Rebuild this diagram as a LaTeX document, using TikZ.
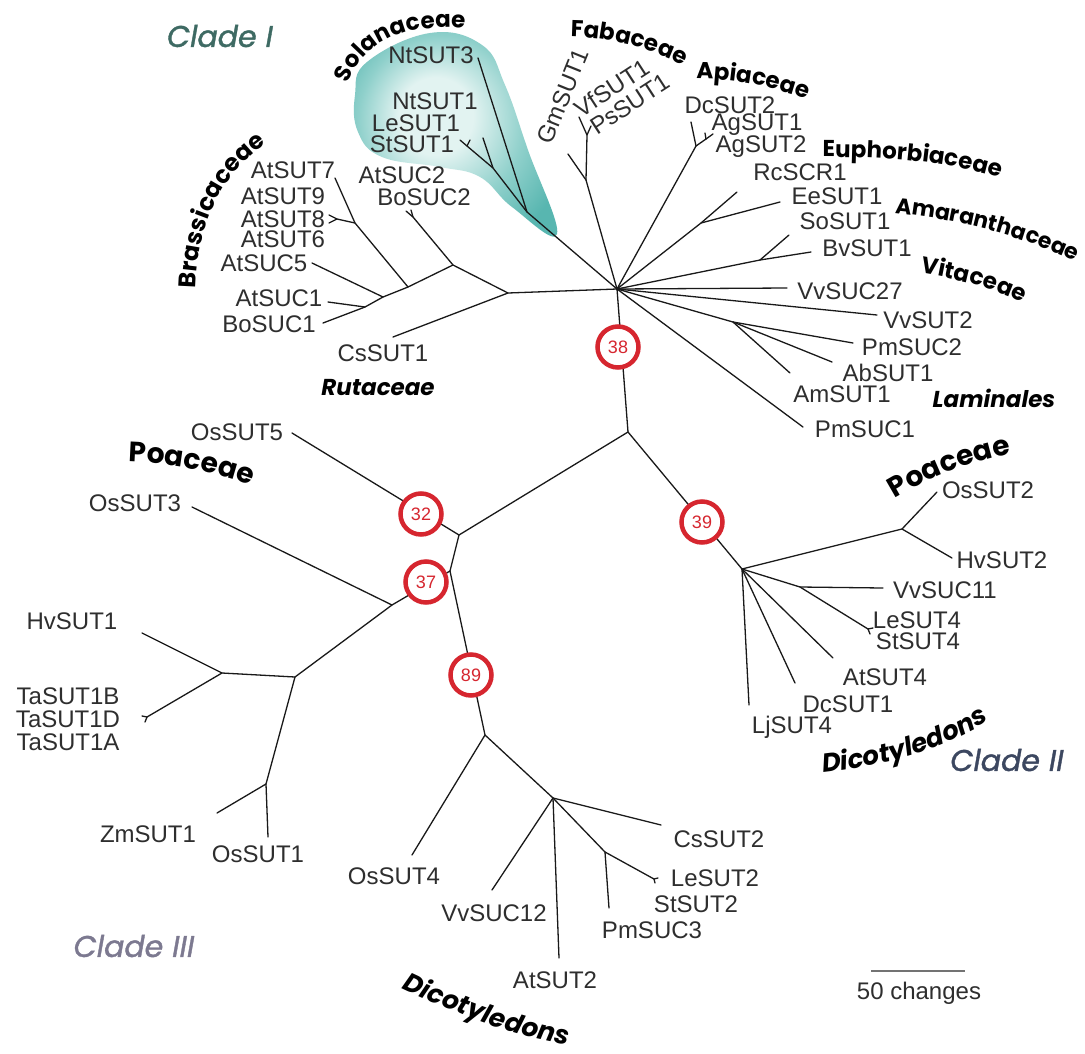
\documentclass[tikz,border=0pt]{standalone}
\usepackage{fontspec}
\setmainfont{Liberation Sans}
\newfontfamily\popfont{Poppins}
\newfontfamily\cladefam{Poppins}[FakeBold=1.2]
\usetikzlibrary{decorations.text}
\definecolor{bootred}{HTML}{D6262F}
\definecolor{tealdark}{HTML}{58B6B0}
\definecolor{tealmid}{HTML}{8FD0CB}
\definecolor{teallight}{HTML}{E2F3F1}
\definecolor{genegray}{HTML}{2E2E2E}
\definecolor{cladeone}{HTML}{3E6A63}
\definecolor{cladetwo}{HTML}{3C4760}
\definecolor{cladethree}{HTML}{7C7990}
\pgfdeclareradialshading{blobshade}{\pgfpoint{-6bp}{6bp}}{color(0bp)=(teallight); color(9bp)=(teallight); color(20bp)=(tealmid); color(30bp)=(tealdark); color(50bp)=(tealdark)}
\newcommand\genefont{\fontsize{24}{24}\selectfont}
\newcommand\bootfont{\fontsize{18}{18}\selectfont}
\newcommand\fsA{\popfont\bfseries\fontsize{23}{23}\selectfont}
\newcommand\fsB{\popfont\bfseries\fontsize{28}{28}\selectfont}
\newcommand\fsC{\popfont\bfseries\itshape\fontsize{26}{26}\selectfont}
\newcommand\fsD{\popfont\bfseries\fontsize{24}{24}\selectfont}
\newcommand\fsE{\popfont\bfseries\fontsize{22}{22}\selectfont}
\newcommand\fsI{\popfont\bfseries\itshape\fontsize{23}{23}\selectfont}
\newcommand\cladefont{\cladefam\itshape\fontsize{30}{30}\selectfont}
\begin{document}
\begin{tikzpicture}[x=1pt,y=-1pt,
  br/.style={line width=1.3pt, draw=black!90, line cap=round, line join=round},
  gn/.style={font=\genefont, text=genegray, inner sep=0pt},
  boot/.style={circle, draw=bootred, line width=4.5pt, fill=white, minimum size=41pt, inner sep=0pt, text=bootred, font=\bootfont},
  famlabel/.style={inner sep=0pt, text=black}]
\fill[white] (0,0) rectangle (1085,1053);
\useasboundingbox (0,0) rectangle (1085,1053);

% Solanaceae highlight
\shade[shading=blobshade]
  plot[smooth cycle, tension=0.7] coordinates {(367,62) (430,33) (482,45) (505,85) (528,150) (557,234) (512,207) (480,177) (440,167) (382,157) (358,132) (355,95)};

% ---------- coordinates ----------
\coordinate (H) at (617,289);
\coordinate (R) at (628,432);
% Solanaceae
\coordinate (s1) at (527,212);
\coordinate (s2) at (493,168);
\coordinate (tNt3) at (478,58);
\coordinate (tNt1) at (483,138);
\coordinate (s3) at (467,146);
\coordinate (tLe1) at (460,140);
\coordinate (tSt1) at (470,140);
% Brassicaceae / Rutaceae
\coordinate (b1) at (508,293);
\coordinate (tCs1) at (393,337);
\coordinate (b2) at (453,265);
\coordinate (b2f) at (413,217);
\coordinate (tAtS2) at (406,211);
\coordinate (tBoS2) at (411,210);
\coordinate (b3) at (408,287);
\coordinate (b4) at (355,223);
\coordinate (tAt7) at (335,178);
\coordinate (b4f) at (337,219);
\coordinate (tAt9) at (329,215);
\coordinate (tAt8) at (329,223);
\coordinate (b5) at (383,297);
\coordinate (tAtC5) at (312,263);
\coordinate (b6) at (365,307);
\coordinate (tAtC1) at (328,302);
\coordinate (tBoC1) at (323,323);
% Fabaceae
\coordinate (f1) at (586,180);
\coordinate (tGm) at (568,154);
\coordinate (f2) at (587,135);
\coordinate (tVf) at (579,117);
\coordinate (tPs) at (591,126);
% Apiaceae
\coordinate (a1) at (696,146);
\coordinate (tDc2) at (691,122);
\coordinate (a2) at (706,139);
\coordinate (tAg1) at (705,133);
\coordinate (tAg2) at (713,134);
% Euphorbiaceae
\coordinate (e1) at (701,223);
\coordinate (tRc) at (737,192);
\coordinate (tEe) at (780,202);
% Amaranthaceae
\coordinate (m1) at (760,260);
\coordinate (tSo) at (789,235);
\coordinate (tBv) at (811,252);
% Vitaceae
\coordinate (tVv27) at (787,288);
\coordinate (tVv2) at (877,315);
% Laminales
\coordinate (l1) at (733,322);
\coordinate (tPm2) at (853,343);
\coordinate (tAb) at (832,362);
\coordinate (tAm) at (790,373);
\coordinate (tPm1) at (803,427);
% Clade II
\coordinate (k1) at (742,569);
\coordinate (k2) at (902,529);
\coordinate (tOs2) at (937,492);
\coordinate (tHv2) at (952,558);
\coordinate (k3) at (800,587);
\coordinate (tVv11) at (883,588);
\coordinate (k4) at (868,629);
\coordinate (tLe4) at (873,628);
\coordinate (tSt4) at (870,634);
\coordinate (tAt4) at (833,658);
\coordinate (tDc1) at (795,683);
\coordinate (tLj4) at (749,705);
% Clade III
\coordinate (j2) at (459,535);
\coordinate (tOs5) at (292,433);
\coordinate (j4) at (450,571);
\coordinate (j5) at (392,605);
\coordinate (tOs3) at (192,507);
\coordinate (j6) at (295,677);
\coordinate (j7) at (222,673);
\coordinate (tHv1) at (142,633);
\coordinate (j7f) at (147,717);
\coordinate (tTaB) at (142,716);
\coordinate (tTaA) at (145,722);
\coordinate (j8) at (266,784);
\coordinate (tZm) at (217,813);
\coordinate (tOs1) at (268,837);
\coordinate (j9) at (485,735);
\coordinate (tOs4) at (412,855);
\coordinate (jd) at (553,798);
\coordinate (tCs2) at (661,825);
\coordinate (jl) at (605,852);
\coordinate (tPm3) at (609,908);
\coordinate (jlf) at (654,879);
\coordinate (tLe2) at (658,878);
\coordinate (tSt2) at (655,883);
\coordinate (tAt2) at (559,958);
\coordinate (tVv12) at (492,890);

% ---------- branches ----------
\draw[br] (H) -- (s1) -- (tNt3);
\draw[br] (s1) -- (s2) -- (tNt1);
\draw[br] (s2) -- (s3) -- (tLe1);
\draw[br] (s3) -- (tSt1);
\draw[br] (H) -- (b1) -- (tCs1);
\draw[br] (b1) -- (b2) -- (b2f) -- (tAtS2);
\draw[br] (b2f) -- (tBoS2);
\draw[br] (b2) -- (b3) -- (b4) -- (tAt7);
\draw[br] (b4) -- (b4f) -- (tAt9);
\draw[br] (b4f) -- (tAt8);
\draw[br] (b3) -- (b5) -- (tAtC5);
\draw[br] (b5) -- (b6) -- (tAtC1);
\draw[br] (b6) -- (tBoC1);
\draw[br] (H) -- (f1) -- (tGm);
\draw[br] (f1) -- (f2) -- (tVf);
\draw[br] (f2) -- (tPs);
\draw[br] (H) -- (a1) -- (tDc2);
\draw[br] (a1) -- (a2) -- (tAg1);
\draw[br] (a2) -- (tAg2);
\draw[br] (H) -- (e1) -- (tRc);
\draw[br] (e1) -- (tEe);
\draw[br] (H) -- (m1) -- (tSo);
\draw[br] (m1) -- (tBv);
\draw[br] (H) -- (tVv27);
\draw[br] (H) -- (tVv2);
\draw[br] (H) -- (l1) -- (tPm2);
\draw[br] (l1) -- (tAb);
\draw[br] (l1) -- (tAm);
\draw[br] (H) -- (tPm1);
\draw[br] (H) -- (R);
\draw[br] (R) -- (k1) -- (k2) -- (tOs2);
\draw[br] (k2) -- (tHv2);
\draw[br] (k1) -- (k3) -- (tVv11);
\draw[br] (k3) -- (k4) -- (tLe4);
\draw[br] (k4) -- (tSt4);
\draw[br] (k1) -- (tAt4);
\draw[br] (k1) -- (tDc1);
\draw[br] (k1) -- (tLj4);
\draw[br] (R) -- (j2) -- (tOs5);
\draw[br] (j2) -- (j4) -- (j5) -- (tOs3);
\draw[br] (j5) -- (j6) -- (j7) -- (tHv1);
\draw[br] (j7) -- (j7f) -- (tTaB);
\draw[br] (j7f) -- (tTaA);
\draw[br] (j6) -- (j8) -- (tZm);
\draw[br] (j8) -- (tOs1);
\draw[br] (j4) -- (j9) -- (tOs4);
\draw[br] (j9) -- (jd) -- (tCs2);
\draw[br] (jd) -- (jl) -- (tPm3);
\draw[br] (jl) -- (jlf) -- (tLe2);
\draw[br] (jlf) -- (tSt2);
\draw[br] (jd) -- (tAt2);
\draw[br] (jd) -- (tVv12);

% ---------- bootstrap circles ----------
\node[boot] (c38) at (618,347) {38};
\node[boot] (c39) at (702,522) {39};
\node[boot] (c32) at (421,514) {32};
\node[boot] (c37) at (426,582) {37};
\node[boot] (c89) at (471,675) {89};

% ---------- gene labels ----------
\node[gn] (NtSUT3) at (431,55) {NtSUT3};
\node[gn] (NtSUT1) at (435,101) {NtSUT1};
\node[gn] (LeSUT1) at (416,123) {LeSUT1};
\node[gn] (StSUT1) at (412,144) {StSUT1};
\node[gn] (AtSUC2) at (402,175) {AtSUC2};
\node[gn] (BoSUC2) at (424,197) {BoSUC2};
\node[gn] (AtSUT7) at (293,170) {AtSUT7};
\node[gn] (AtSUT9) at (283,196) {AtSUT9};
\node[gn] (AtSUT8) at (283,219) {AtSUT8};
\node[gn] (AtSUT6) at (283,239) {AtSUT6};
\node[gn] (AtSUC5) at (264,263) {AtSUC5};
\node[gn] (AtSUC1) at (279,298) {AtSUC1};
\node[gn] (BoSUC1) at (269,324) {BoSUC1};
\node[gn] (CsSUT1) at (383,353) {CsSUT1};
\node[gn, rotate=68] (GmSUT1) at (563,96) {GmSUT1};
\node[gn, rotate=33] (VfSUT1) at (612,88) {VfSUT1};
\node[gn, rotate=33] (PsSUT1) at (630,104) {PsSUT1};
\node[gn] (DcSUT2) at (730,105) {DcSUT2};
\node[gn] (AgSUT1) at (757,125) {AgSUT1};
\node[gn] (AgSUT2) at (761,147) {AgSUT2};
\node[gn] (RcSCR1) at (800,172) {RcSCR1};
\node[gn] (EeSUT1) at (837,196) {EeSUT1};
\node[gn] (SoSUT1) at (845,221) {SoSUT1};
\node[gn] (BvSUT1) at (867,248) {BvSUT1};
\node[gn] (VvSUC27) at (850,291) {VvSUC27};
\node[gn] (VvSUT2) at (928,320) {VvSUT2};
\node[gn] (PmSUC2) at (912,347) {PmSUC2};
\node[gn] (AbSUT1) at (888,373) {AbSUT1};
\node[gn] (AmSUT1) at (842,394) {AmSUT1};
\node[gn] (PmSUC1) at (865,429) {PmSUC1};
\node[gn] (OsSUT2) at (988,490) {OsSUT2};
\node[gn] (HvSUT2) at (1002,560) {HvSUT2};
\node[gn] (VvSUC11) at (945,590) {VvSUC11};
\node[gn] (LeSUT4) at (917,620) {LeSUT4};
\node[gn] (StSUT4) at (918,641) {StSUT4};
\node[gn] (AtSUT4) at (885,677) {AtSUT4};
\node[gn] (DcSUT1) at (848,704) {DcSUT1};
\node[gn] (LjSUT4) at (792,727) {LjSUT4};
\node[gn] (OsSUT5) at (237,432) {OsSUT5};
\node[gn] (OsSUT3) at (135,503) {OsSUT3};
\node[gn] (HvSUT1) at (72,621) {HvSUT1};
\node[gn] (TaSUT1B) at (68,696) {TaSUT1B};
\node[gn] (TaSUT1D) at (68,719) {TaSUT1D};
\node[gn] (TaSUT1A) at (68,742) {TaSUT1A};
\node[gn] (ZmSUT1) at (148,834) {ZmSUT1};
\node[gn] (OsSUT1) at (258,854) {OsSUT1};
\node[gn] (OsSUT4) at (394,876) {OsSUT4};
\node[gn] (VvSUC12) at (494,913) {VvSUC12};
\node[gn] (AtSUT2) at (555,980) {AtSUT2};
\node[gn] (PmSUC3) at (652,930) {PmSUC3};
\node[gn] (StSUT2) at (696,904) {StSUT2};
\node[gn] (LeSUT2) at (715,878) {LeSUT2};
\node[gn] (CsSUT2) at (719,839) {CsSUT2};

% ---------- family labels ----------
\path[decorate, decoration={text along path, text align=center, text={|\fsA|Solanaceae}}]
  (341,99) -- (349,80) .. controls (365,42) and (405,24) .. (462,28) -- (482,29);
\path[decorate, decoration={text along path, text align=center, text={|\fsA|Fabaceae}}]
  (550,37) -- (570,37) .. controls (605,37) and (650,47) .. (684,66) -- (701,76);
\path[decorate, decoration={text along path, text align=center, text={|\fsA|Apiaceae}}]
  (680,79) -- (700,79) .. controls (730,79) and (768,85) .. (803,98) -- (822,105);
\path[decorate, decoration={text along path, text align=center, text={|\fsA|Euphorbiaceae}}]
  (803,157) -- (823,157) .. controls (880,157) and (945,160) .. (1000,178) -- (1019,184);
\path[decorate, decoration={text along path, text align=center, text={|\fsE|Amaranthaceae}}]
  (874,211) -- (894,213) .. controls (946,218) and (1014,232) .. (1076,262) -- (1094,271);
\path[decorate, decoration={text along path, text align=center, text={|\fsA|Vitaceae}}]
  (901,270) -- (921,273) .. controls (950,278) and (990,286) .. (1022,303) -- (1040,312);
\path[decorate, decoration={text along path, text align=center, text={|\fsD|Brassicaceae}}]
  (195,300) -- (196,280) .. controls (199,232) and (215,182) .. (260,149) -- (276,137);
\path[decorate, decoration={text along path, text align=center, text={|\fsB|Poaceae}}]
  (111,461) -- (131,462) .. controls (165,463) and (212,470) .. (249,485) -- (267,492);
\path[decorate, decoration={text along path, text align=center, text={|\fsB|Poaceae}}]
  (880,507) -- (897,497) .. controls (925,480) and (965,463) .. (1008,455) -- (1028,451);
\path[decorate, decoration={text along path, text align=center, text={|\fsC|Dicotyledons}}]
  (802,775) -- (822,773) .. controls (870,768) and (935,755) .. (990,720) -- (1007,709);
\path[decorate, decoration={text along path, text align=center, text={|\fsC|Dicotyledons}}]
  (392,983) -- (410,992) .. controls (455,1013) and (505,1033) .. (558,1043) -- (578,1047);
\node[famlabel, font=\fsI] (Rutaceae) at (378,388) {Rutaceae};
\node[famlabel, font=\fsI] (Laminales) at (994,398) {Laminales};

% ---------- clade labels ----------
\node[inner sep=0pt, text=cladeone, font=\cladefont] (cladeI) at (220,36) {Clade I};
\node[inner sep=0pt, text=cladetwo, font=\cladefont] (cladeII) at (1007,760) {Clade II};
\node[inner sep=0pt, text=cladethree, font=\cladefont] (cladeIII) at (134,946) {Clade III};

% ---------- scale bar ----------
\coordinate (sb1) at (871,971);
\coordinate (sb2) at (965,971);
\draw[line width=1.6pt, draw=black!55] (sb1) -- (sb2);
\node[gn] (scalelabel) at (919,993) {50 changes};
\end{tikzpicture}
\end{document}
